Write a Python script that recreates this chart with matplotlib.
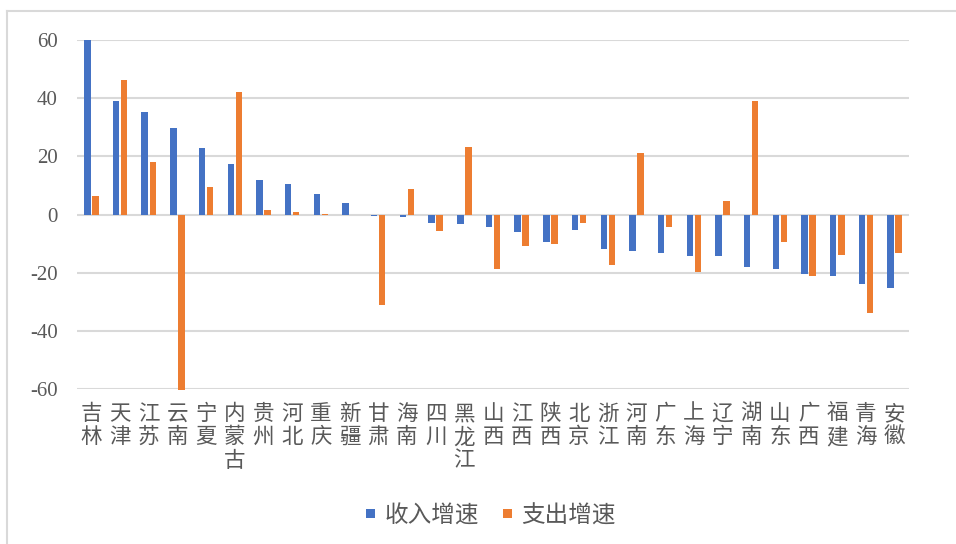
import matplotlib
matplotlib.use("Agg")
import matplotlib.pyplot as plt
import numpy as np
from matplotlib.lines import Line2D
from matplotlib.patches import Patch

plt.rcParams['font.family'] = ['Noto Sans CJK SC', 'DejaVu Sans']

provinces = ["吉林", "天津", "江苏", "云南", "宁夏", "内蒙古", "贵州", "河北", "重庆", "新疆",
             "甘肃", "海南", "四川", "黑龙江", "山西", "江西", "陕西", "北京", "浙江", "河南",
             "广东", "上海", "辽宁", "湖南", "山东", "广西", "福建", "青海", "安徽"]

income_growth = [60.0, 39.1, 35.4, 29.6, 22.9, 17.2, 11.7, 10.6, 7.1, 4.1,
                 -0.6, -0.9, -2.9, -3.2, -4.4, -6.1, -9.3, -5.3, -11.9, -12.7,
                 -13.3, -14.2, -14.4, -17.9, -18.9, -20.6, -21.2, -24.0, -25.4]
expense_growth = [6.2, 46.1, 17.9, -60.5, 9.6, 42.1, 1.4, 1.0, 0.3, 0.0,
                  -31.2, 8.7, -5.8, 23.3, -18.8, -10.7, -10.0, -2.9, -17.2, 21.3,
                  -4.4, -19.7, 4.5, 39.1, -9.3, -21.1, -14.0, -33.8, -13.3]
yticks = [-60, -40, -20, 0, 20, 40, 60]
series_names = ["收入增速", "支出增速"]

BLUE = "#4472C4"
ORANGE = "#ED7D31"
GRID = "#D9D9D9"
TEXT = "#595959"

fig = plt.figure(figsize=(9.56, 5.44), dpi=100)

# light frame around the chart area
fig.add_artist(Line2D([7 / 956, 7 / 956], [0, 1 - 11 / 544], transform=fig.transFigure,
                      color=GRID, lw=1.5))
fig.add_artist(Line2D([7 / 956, 1], [1 - 11 / 544, 1 - 11 / 544], transform=fig.transFigure,
                      color=GRID, lw=1.5))

ax = fig.add_axes([77 / 956, 1 - 389 / 544, (909 - 77) / 956, (389 - 40) / 544])

x = np.arange(len(provinces))
w = 0.225
off = 0.14
b1 = ax.bar(x - off, income_growth, width=w, color=BLUE, zorder=3)
b2 = ax.bar(x + off, expense_growth, width=w, color=ORANGE, zorder=3)
for r in list(b1) + list(b2):
    r.set_clip_on(False)

ax.set_xlim(-0.5, len(provinces) - 0.5)
ax.set_ylim(-60, 60)
ax.set_yticks(yticks)
ax.set_yticklabels([str(v) for v in yticks], family=['Liberation Serif'], fontsize=15,
                   color=TEXT)
ax.tick_params(axis='y', length=0, pad=14)
for v in yticks:
    ax.axhline(v, color=GRID, lw=1.5, zorder=1)

ax.set_xticks(x)
ax.set_xticklabels(["\n".join(p) for p in provinces], fontsize=15.5, color=TEXT,
                   linespacing=1.08, va='top')
ax.tick_params(axis='x', length=0, pad=10)

for s in ax.spines.values():
    s.set_visible(False)

handles = [Patch(facecolor=BLUE), Patch(facecolor=ORANGE)]
fig.legend(handles, series_names, loc='center', bbox_to_anchor=(491 / 956, 1 - 516 / 544),
           ncol=2, frameon=False, fontsize=17, labelcolor=TEXT,
           handlelength=0.38, handleheight=0.21, handletextpad=0.4, columnspacing=1.0)

fig.savefig("out.png", dpi=100)
